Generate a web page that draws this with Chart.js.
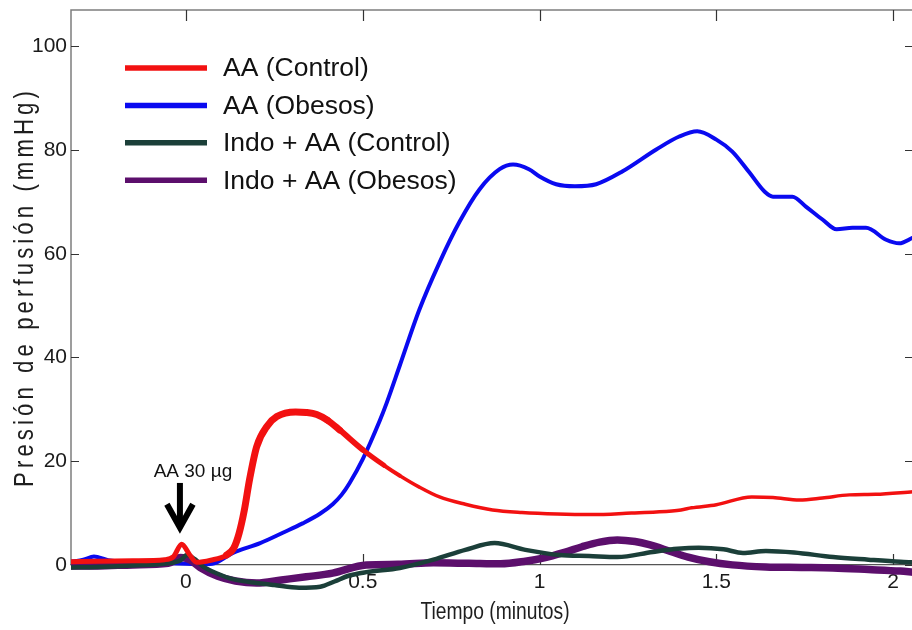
<!DOCTYPE html>
<html>
<head>
<meta charset="utf-8">
<script src="https://cdn.jsdelivr.net/npm/chart.js@4.4.1/dist/chart.umd.min.js"></script>
<style>
  html, body { margin: 0; padding: 0; overflow: hidden; background: #fff; }
  canvas { display: block; }
</style>
</head>
<body>
<canvas id="c" width="916" height="630"></canvas>
<script>
// Perfusion pressure traces after an arachidonic acid bolus (time in minutes, pressure in mmHg)
const seriesLabels = ['AA (Control)', 'AA (Obesos)', 'Indo + AA (Control)', 'Indo + AA (Obesos)'];

const tAAControl = [-0.325, -0.25, -0.15, -0.06, -0.035, -0.012, 0.01, 0.03, 0.07, 0.115, 0.135, 0.15, 0.165, 0.18, 0.2, 0.23, 0.257, 0.31, 0.34, 0.37, 0.4, 0.435, 0.5, 0.56, 0.605, 0.66, 0.717, 0.79, 0.867, 0.95, 1.05, 1.15, 1.26, 1.33, 1.4, 1.43, 1.5, 1.6, 1.66, 1.735, 1.8, 1.876, 1.95, 2.056];
const vAAControl = [0.6, 0.7, 0.8, 1.0, 1.6, 4.0, 2.0, 0.5, 0.9, 1.9, 3.2, 6.0, 10.5, 16.5, 22.8, 26.8, 28.6, 29.5, 29.4, 29.0, 27.9, 26.0, 22.2, 19.2, 17.2, 15.0, 13.1, 11.7, 10.6, 10.1, 9.8, 9.7, 10.0, 10.2, 10.6, 11.0, 11.6, 13.1, 13.0, 12.5, 12.9, 13.5, 13.6, 14.1];

const tAAObesos = [-0.325, -0.29, -0.26, -0.22, -0.15, -0.05, 0, 0.05, 0.08, 0.133, 0.21, 0.274, 0.33, 0.38, 0.415, 0.44, 0.463, 0.5, 0.548, 0.568, 0.605, 0.66, 0.717, 0.774, 0.83, 0.887, 0.925, 0.97, 1.0, 1.047, 1.1, 1.16, 1.235, 1.33, 1.395, 1.446, 1.5, 1.545, 1.593, 1.636, 1.66, 1.715, 1.753, 1.8, 1.84, 1.885, 1.923, 1.98, 2.017, 2.056];
const vAAObesos = [0.6, 1.0, 1.6, 0.9, 0.5, 0.3, 0.2, 0.1, 0.3, 2.3, 4.2, 6.2, 8.0, 9.9, 11.7, 13.5, 15.8, 20.4, 27.8, 31.3, 38.5, 49.2, 58.3, 66.2, 72.4, 76.3, 77.2, 76.3, 74.9, 73.4, 73.0, 73.4, 75.9, 80.1, 82.6, 83.6, 82.0, 79.7, 75.7, 72.0, 71.0, 71.0, 69.1, 66.6, 64.7, 65.0, 65.0, 62.7, 62.0, 63.1];

const tIndoControl = [-0.325, -0.25, -0.15, -0.05, -0.015, 0.003, 0.025, 0.05, 0.09, 0.13, 0.19, 0.25, 0.32, 0.38, 0.42, 0.46, 0.51, 0.605, 0.7, 0.79, 0.873, 0.96, 1.056, 1.14, 1.22, 1.32, 1.39, 1.45, 1.52, 1.575, 1.64, 1.72, 1.83, 1.93, 2.02, 2.056];
const vIndoControl = [-0.5, -0.4, -0.1, 0.3, 0.9, 1.9, 1.1, -0.4, -1.7, -2.7, -3.4, -3.9, -4.4, -4.2, -3.2, -2.1, -1.4, -0.6, 1.0, 2.9, 4.2, 2.9, 1.9, 1.7, 1.5, 2.5, 3.1, 3.3, 3.0, 2.3, 2.7, 2.4, 1.5, 1.0, 0.6, 0.5];

const tIndoObesos = [-0.325, -0.25, -0.15, -0.05, -0.015, 0.01, 0.04, 0.09, 0.14, 0.2, 0.27, 0.34, 0.415, 0.51, 0.6, 0.7, 0.8, 0.89, 0.96, 1.01, 1.07, 1.12, 1.17, 1.22, 1.27, 1.31, 1.37, 1.42, 1.48, 1.545, 1.64, 1.74, 1.83, 1.93, 2.02, 2.056];
const vIndoObesos = [-0.2, -0.2, 0.0, 0.3, 1.4, 1.0, -0.5, -2.2, -3.1, -3.5, -2.9, -2.3, -1.6, 0.0, 0.1, 0.4, 0.3, 0.2, 0.7, 1.3, 2.4, 3.5, 4.4, 4.8, 4.5, 3.9, 2.6, 1.5, 0.6, 0.0, -0.4, -0.5, -0.6, -0.9, -1.2, -1.4];

const xTicks = [0, 0.5, 1, 1.5, 2];
const xTickLabels = ['0', '0.5', '1', '1.5', '2'];
const yTicks = [0, 20, 40, 60, 80, 100];
const yTickLabels = ['0', '20', '40', '60', '80', '100'];

const X_MIN = -0.325, X_MAX = 2.056;
const Y_MIN = -6, Y_MAX = 107;

// injection marker
const doseText = 'AA 30 µg';
const doseTime = -0.017;

const yTitle = 'Presión de perfusión (mmHg)';
const xTitle = 'Tiempo (minutos)';

const FONT = "'Liberation Sans', Arial, sans-serif";

const pts = (t, v) => t.map((x, i) => ({ x, y: v[i] }));

// red trace is heavier on the early response
function redWidth(ctx) {
  const x = (ctx.p0.parsed.x + ctx.p1.parsed.x) / 2;
  if (x < 0.12) return 5;
  if (x < 0.4) return 7;
  if (x < 0.62) return 7 - (x - 0.4) / 0.22 * 3.5;
  return 3.5;
}

const lineBase = { pointRadius: 0, fill: false, cubicInterpolationMode: 'monotone', borderCapStyle: 'round', borderJoinStyle: 'round' };

const datasets = [
  { ...lineBase, label: seriesLabels[0], data: pts(tAAControl, vAAControl), borderColor: '#f21111', borderWidth: 3.5, segment: { borderWidth: redWidth }, order: 0 },
  { ...lineBase, label: seriesLabels[1], data: pts(tAAObesos, vAAObesos), borderColor: '#0a0af0', borderWidth: 4, order: 3 },
  { ...lineBase, label: seriesLabels[2], data: pts(tIndoControl, vIndoControl), borderColor: '#1b3f39', borderWidth: 4.5, order: 1 },
  { ...lineBase, label: seriesLabels[3], data: pts(tIndoObesos, vIndoObesos), borderColor: '#5c0f6c', borderWidth: 7.5, order: 2 }
];

// narrow-looking text: horizontally compressed glyphs
function condensedText(ctx, text, x, y, size, squeeze, spacing, rotate) {
  ctx.save();
  ctx.translate(x, y);
  if (rotate) ctx.rotate(-Math.PI / 2);
  ctx.scale(squeeze, 1);
  ctx.font = size + 'px ' + FONT;
  ctx.letterSpacing = spacing + 'px';
  ctx.textAlign = 'center';
  ctx.textBaseline = 'middle';
  ctx.fillStyle = '#1e1e1e';
  ctx.fillText(text, 0, 0);
  ctx.restore();
}

// box outline and inward tick marks
const framePlugin = {
  id: 'frame',
  beforeDatasetsDraw(chart) {
    const { ctx, chartArea: a, scales: { x, y } } = chart;
    const y0 = y.getPixelForValue(0);
    ctx.save();
    ctx.strokeStyle = '#7d7d7d';
    ctx.lineWidth = 1.5;
    ctx.beginPath();
    ctx.moveTo(a.left, y0);
    ctx.lineTo(a.left, a.top);
    ctx.lineTo(a.right, a.top);
    ctx.lineTo(a.right, y0);
    ctx.stroke();
    ctx.strokeStyle = '#333';
    ctx.lineWidth = 1.2;
    ctx.beginPath();
    x.ticks.forEach(t => {
      const px = Math.round(x.getPixelForValue(t.value)) + 0.5;
      ctx.moveTo(px, y0); ctx.lineTo(px, y0 - 11);
      ctx.moveTo(px, a.top); ctx.lineTo(px, a.top + 11);
    });
    y.ticks.forEach(t => {
      const py = Math.round(y.getPixelForValue(t.value)) + 0.5;
      ctx.moveTo(a.left, py); ctx.lineTo(a.left + 8, py);
      ctx.moveTo(a.right, py); ctx.lineTo(a.right - 8, py);
    });
    ctx.stroke();
    ctx.restore();
  }
};

// legend inside the plot, upper left
const legendPlugin = {
  id: 'insetLegend',
  afterDatasetsDraw(chart) {
    const { ctx, chartArea: a } = chart;
    const x0 = a.left + 54, y0 = a.top + 58, rowH = 37.4, lineLen = 82;
    ctx.save();
    ctx.font = '26.5px ' + FONT;
    ctx.textBaseline = 'middle';
    ctx.textAlign = 'left';
    chart.data.datasets.forEach((ds, i) => {
      const yy = y0 + i * rowH;
      ctx.strokeStyle = ds.borderColor;
      ctx.lineWidth = 5.5;
      ctx.lineCap = 'butt';
      ctx.beginPath();
      ctx.moveTo(x0, yy); ctx.lineTo(x0 + lineLen, yy);
      ctx.stroke();
      ctx.fillStyle = '#111';
      ctx.fillText(ds.label, x0 + lineLen + 16, yy + 1);
    });
    ctx.restore();
  }
};

// injection arrow, its label and the axis titles
const notesPlugin = {
  id: 'notes',
  afterDraw(chart) {
    const { ctx, chartArea: a, scales: { x, y } } = chart;
    const ax = x.getPixelForValue(doseTime);
    ctx.save();
    ctx.strokeStyle = '#000';
    ctx.lineWidth = 6;
    ctx.lineCap = 'butt';
    ctx.beginPath();
    ctx.moveTo(ax, y.getPixelForValue(15.8));
    ctx.lineTo(ax, y.getPixelForValue(8));
    ctx.stroke();
    ctx.lineJoin = 'miter';
    ctx.beginPath();
    ctx.moveTo(ax - 13, y.getPixelForValue(11.7));
    ctx.lineTo(ax, y.getPixelForValue(7.2));
    ctx.lineTo(ax + 13, y.getPixelForValue(11.7));
    ctx.stroke();

    ctx.fillStyle = '#111';
    ctx.font = '19px ' + FONT;
    ctx.textAlign = 'center';
    ctx.textBaseline = 'middle';
    ctx.fillText(doseText, ax + 13, y.getPixelForValue(18));
    ctx.restore();

    condensedText(ctx, yTitle, 26, 287, 27, 0.82, 5, true);
    condensedText(ctx, xTitle, (a.left + a.right) / 2 + 3, 613, 23.5, 0.82, 0, false);
  }
};

new Chart(document.getElementById('c'), {
  type: 'line',
  data: { datasets },
  options: {
    responsive: false,
    animation: false,
    layout: { padding: { top: 10, right: 3, bottom: 34, left: 0 } },
    plugins: { legend: { display: false }, tooltip: { enabled: false } },
    scales: {
      x: {
        type: 'linear',
        min: X_MIN, max: X_MAX,
        position: { y: 0 },
        afterBuildTicks: s => { s.ticks = xTicks.map(v => ({ value: v })); },
        afterFit: s => { s.paddingLeft = 0; s.paddingRight = 0; },
        ticks: {
          autoSkip: false, maxRotation: 0, padding: 5, color: '#1a1a1a',
          font: { family: FONT, size: 21 },
          callback: v => xTickLabels[xTicks.indexOf(v)]
        },
        grid: { display: false, drawTicks: false },
        border: { display: true, color: '#555', width: 1.2 }
      },
      y: {
        min: Y_MIN, max: Y_MAX,
        afterBuildTicks: s => { s.ticks = yTicks.map(v => ({ value: v })); },
        afterFit: s => { s.width = 71; s.paddingTop = 0; s.paddingBottom = 0; },
        ticks: {
          padding: 4, color: '#1a1a1a',
          font: { family: FONT, size: 21 },
          callback: v => yTickLabels[yTicks.indexOf(v)]
        },
        grid: { display: false, drawTicks: false },
        border: { display: false }
      }
    }
  },
  plugins: [framePlugin, legendPlugin, notesPlugin]
});
</script>
</body>
</html>
